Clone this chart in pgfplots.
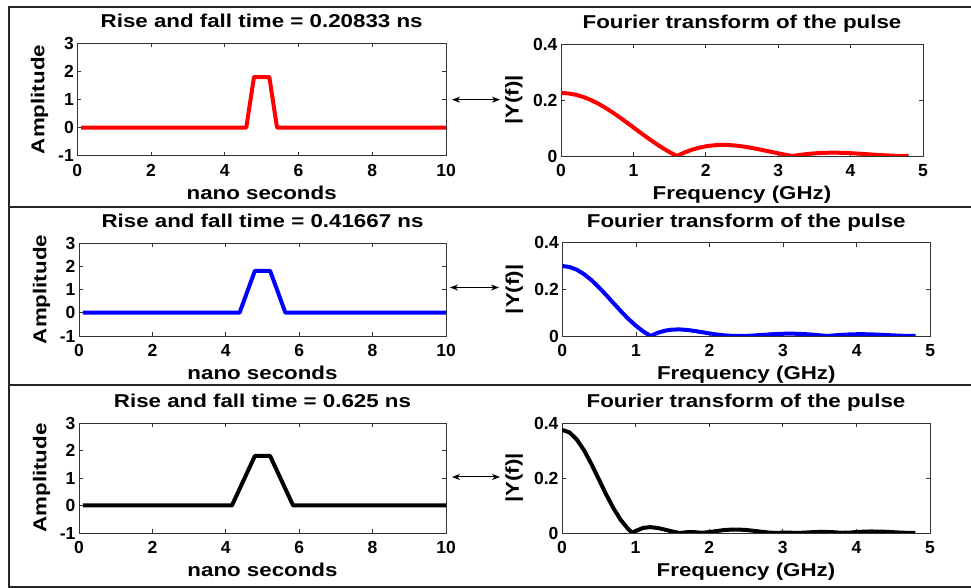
\documentclass[border=0pt]{standalone}
\usepackage{fontspec}
\setmainfont{Liberation Sans}
\newfontfamily\labfont{Liberation Sans}[FakeStretch=1.2]
\usepackage{pgfplots}
\pgfplotsset{compat=1.18}
\usetikzlibrary{arrows.meta}

\pgfplotsset{
  matfig/.style={
    scale only axis,
    anchor=south west,
    axis line style={black!80, line width=0.8pt},
    tick style={black!80, line width=0.8pt},
    major tick length=4pt,
    tick align=inside,
    /pgf/number format/assume math mode=true,
    ticklabel style={font=\bfseries\fontsize{17.5}{17.5}\selectfont},
    label style={font=\labfont\bfseries\fontsize{18.6}{18.6}\selectfont},
    every axis title shift=0pt,
    title style={font=\labfont\bfseries\fontsize{18.6}{18.6}\selectfont,
      at={(axis description cs:0.5,1)}, anchor=base, yshift=15.5pt},
    xlabel style={at={(axis description cs:0.5,0)}, anchor=base, yshift=-43.5pt},
    xticklabel style={anchor=base, yshift=-21pt},
    every axis plot/.append style={line width=4pt, line join=round},
  },
  pulse/.style={matfig,
    xmin=0, xmax=10, ymin=-1, ymax=3,
    xtick={0,2,...,10}, ytick={-1,0,...,3},
    xlabel={nano seconds}, ylabel={Amplitude},
    ylabel style={at={(axis description cs:-0.102,0.5)}, anchor=center}},
  spec/.style={matfig,
    xmin=0, xmax=5, ymin=0, ymax=0.4,
    xtick={0,...,5}, ytick={0,0.2,0.4},
    xlabel={Frequency (GHz)}, ylabel={|Y(f)|},
    title={Fourier transform of the pulse},
    ylabel style={at={(axis description cs:-0.13,0.5)}, anchor=center}},
}
\tikzset{dbl/.style={{Stealth[length=8pt,width=6pt,inset=2.5pt]}-{Stealth[length=8pt,width=6pt,inset=2.5pt]}, line width=1pt}}

\begin{document}
\begin{tikzpicture}[x=1pt,y=1pt]
\useasboundingbox (0,0) rectangle (971,588);

% frame and row separators
\draw[line width=2pt, black!85] (971,581) -- (9,581) -- (9,0);
\draw[line width=2pt, black!85] (9,381) -- (971,381);
\draw[line width=2pt, black!85] (9,203) -- (971,203);
\draw[line width=2pt, black!85] (9,1) -- (971,1);

% ---- row 1
\begin{axis}[pulse, at={(77.3pt,432.3pt)}, width=368.7pt, height=112.4pt,
  title={Rise and fall time = 0.20833 ns}]
\addplot[red] coordinates {(0.1042,0) (4.5833,0) (4.7917,1.8) (5.2083,1.8) (5.4167,0) (10,0)};
\end{axis}
\begin{axis}[spec, at={(561pt,432pt)}, width=362pt, height=112pt]
\addplot[red] coordinates {
(0,0.2250)(0.1,0.2235)(0.2,0.2190)(0.3,0.2115)(0.4,0.2014)(0.5,0.1889)(0.6,0.1742)
(0.7,0.1577)(0.8,0.1400)(0.9,0.1212)(1.0,0.1021)(1.1,0.0828)(1.2,0.0640)(1.3,0.0460)
(1.4,0.0291)(1.5,0.0137)(1.6,0)(1.7,0.0118)(1.8,0.0215)(1.9,0.0291)(2.0,0.0346)
(2.1,0.0380)(2.2,0.0395)(2.3,0.0393)(2.4,0.0375)(2.5,0.0344)(2.6,0.0304)(2.7,0.0256)
(2.8,0.0203)(2.9,0.0149)(3.0,0.0096)(3.1,0.0045)(3.2,0)(3.3,0.0039)(3.4,0.0071)
(3.5,0.0094)(3.6,0.0110)(3.7,0.0117)(3.8,0.0118)(3.9,0.0112)(4.0,0.0100)(4.1,0.0086)
(4.2,0.0069)(4.3,0.0051)(4.4,0.0035)(4.5,0.0021)(4.6,0.0009)(4.7,0.0002)(4.8,0)};
\end{axis}
\draw[dbl] (452,488.3) -- (500,488.3);

% ---- row 2
\begin{axis}[pulse, at={(79pt,252pt)}, width=367pt, height=93pt,
  title={Rise and fall time = 0.41667 ns}]
\addplot[blue] coordinates {(0.1042,0) (4.375,0) (4.7917,1.8) (5.2083,1.8) (5.625,0) (10,0)};
\end{axis}
\begin{axis}[spec, at={(562.3pt,252pt)}, width=368pt, height=93.3pt]
\addplot[blue] coordinates {
(0,0.3000)(0.1,0.2958)(0.2,0.2836)(0.3,0.2641)(0.4,0.2383)(0.5,0.2078)(0.6,0.1742)
(0.7,0.1393)(0.8,0.1050)(0.9,0.0727)(1.0,0.0438)(1.1,0.0194)(1.2,0)(1.3,0.0141)
(1.4,0.0231)(1.5,0.0276)(1.6,0.0281)(1.7,0.0258)(1.8,0.0215)(1.9,0.0162)(2.0,0.0110)
(2.1,0.0063)(2.2,0.0028)(2.3,0.0007)(2.4,0)(2.5,0.0006)(2.6,0.0021)(2.7,0.0042)
(2.8,0.0064)(2.9,0.0083)(3.0,0.0096)(3.1,0.0100)(3.2,0.0094)(3.3,0.0079)(3.4,0.0056)
(3.5,0.0029)(3.6,0)(3.7,0.0027)(3.8,0.0050)(3.9,0.0067)(4.0,0.0075)(4.1,0.0076)
(4.2,0.0069)(4.3,0.0057)(4.4,0.0041)(4.5,0.0026)(4.6,0.0012)(4.7,0.0003)(4.8,0)};
\end{axis}
\draw[dbl] (450,300.5) -- (499,300.5);

% ---- row 3
\begin{axis}[pulse, at={(79pt,55pt)}, width=367pt, height=110pt,
  title={Rise and fall time = 0.625 ns}]
\addplot[black] coordinates {(0.1042,0) (4.1667,0) (4.7917,1.8) (5.2083,1.8) (5.8333,0) (10,0)};
\end{axis}
\begin{axis}[spec, at={(562pt,55pt)}, width=368pt, height=110pt]
\addplot[black] coordinates {
(0,0.3750)(0.1,0.3661)(0.2,0.3404)(0.3,0.3005)(0.4,0.2506)(0.5,0.1954)(0.6,0.1402)
(0.7,0.0894)(0.8,0.0467)(0.9,0.0142)(0.96,0)(1.0,0.0073)(1.1,0.0185)(1.2,0.0213)
(1.3,0.0183)(1.4,0.0121)(1.5,0.0054)(1.6,0)(1.7,0.0029)(1.8,0.0030)(1.9,0.0007)
(2.0,0.0031)(2.1,0.0072)(2.2,0.0105)(2.3,0.0124)(2.4,0.0125)(2.5,0.0109)(2.6,0.0081)
(2.7,0.0048)(2.8,0.0018)(2.9,0.0003)(3.0,0.0013)(3.1,0.0011)(3.2,0)(3.3,0.0015)
(3.4,0.0029)(3.5,0.0038)(3.6,0.0037)(3.7,0.0026)(3.8,0.0008)(3.9,0.0013)(4.0,0.0033)
(4.1,0.0049)(4.2,0.0055)(4.3,0.0053)(4.4,0.0043)(4.5,0.0029)(4.6,0.0015)(4.7,0.0004)(4.8,0)};
\end{axis}
\draw[dbl] (452,111) -- (500,111);
\end{tikzpicture}
\end{document}
